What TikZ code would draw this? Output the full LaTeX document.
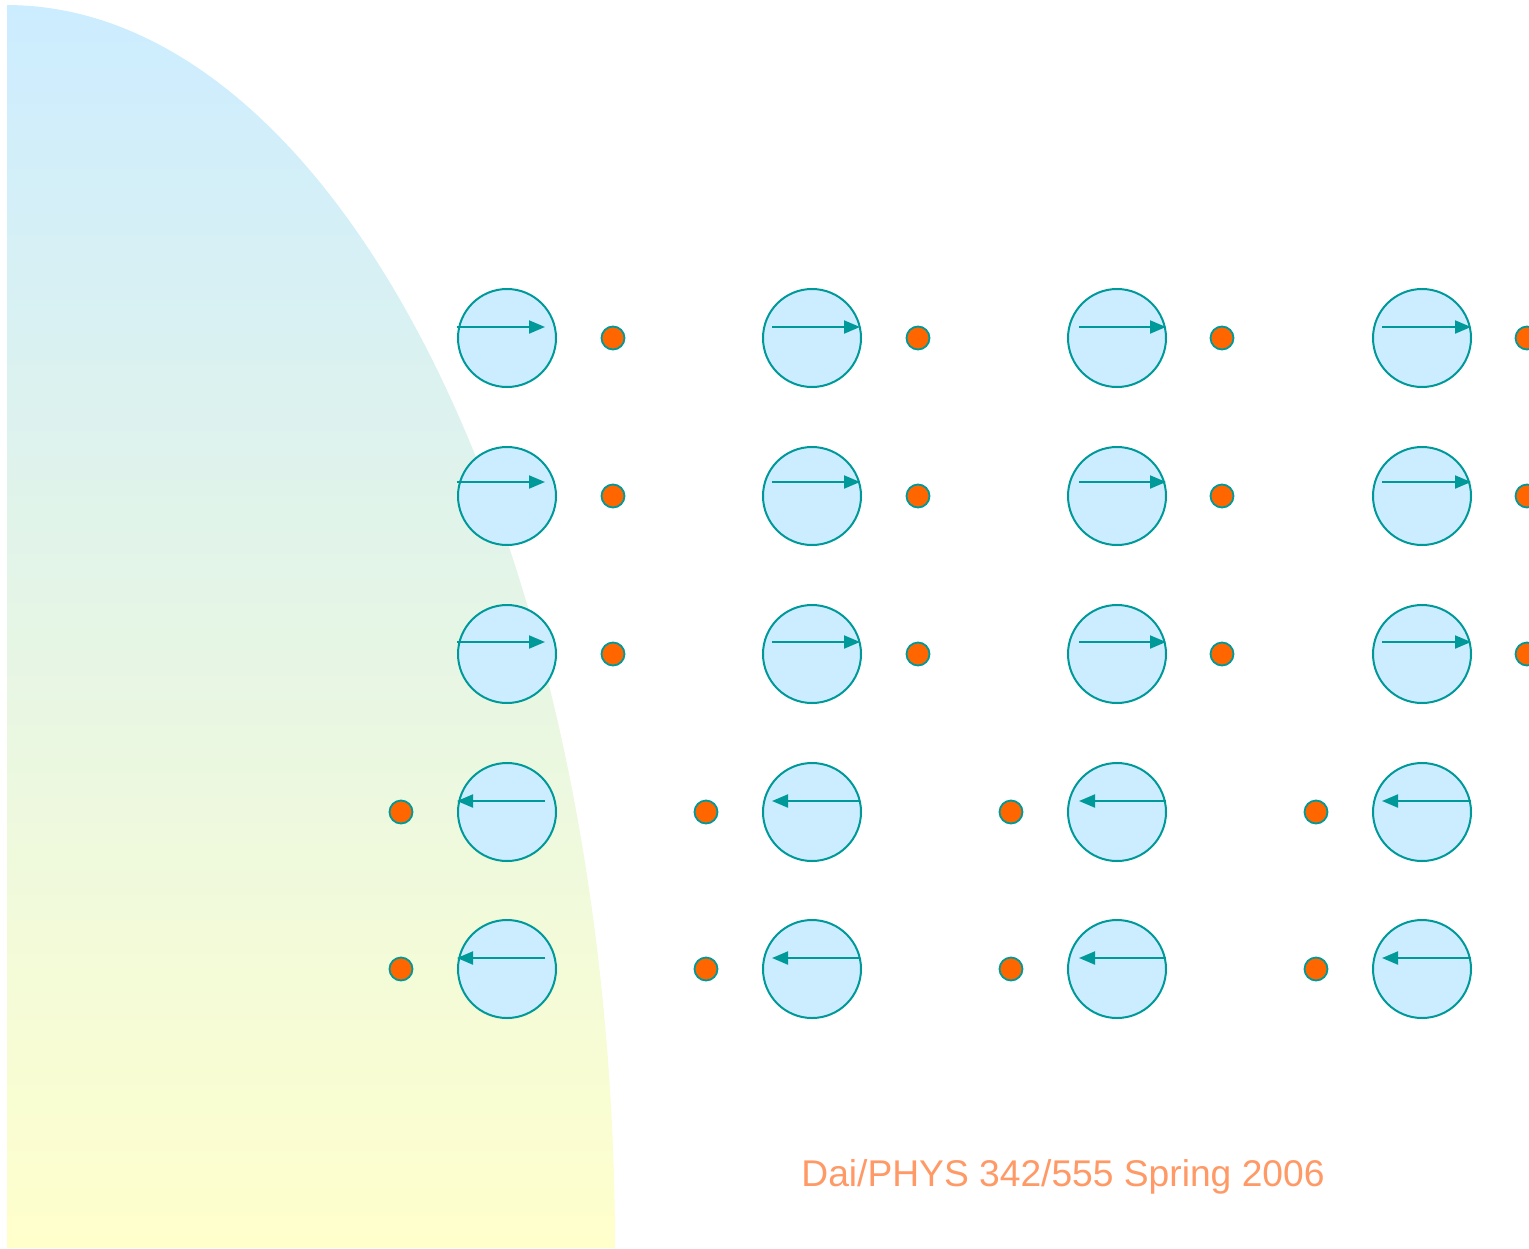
\documentclass[tikz,border=0pt]{standalone}
\usepackage{fontspec}
\setmainfont{Liberation Sans}
\usetikzlibrary{arrows.meta}
\definecolor{skyb}{RGB}{204,236,255}
\definecolor{paley}{RGB}{255,255,204}
\definecolor{tealc}{RGB}{0,153,153}
\definecolor{orangec}{RGB}{255,102,0}
\definecolor{salmon}{RGB}{255,153,102}
\tikzset{
  atom/.style={circle, draw=tealc, fill=skyb, line width=2pt, minimum size=98pt, inner sep=0pt},
  elec/.style={circle, draw=tealc, fill=orangec, line width=1.8pt, minimum size=23pt, inner sep=0pt},
  spin/.style={draw=tealc, line width=2pt, -{Triangle[length=16pt,width=13pt]}},
  lbl/.style={text=salmon, font=\fontsize{37.2}{45}\selectfont}
}
\begin{document}
\begin{tikzpicture}[x=1pt,y=-1pt]
\useasboundingbox (0,0) rectangle (1529,1248);
\shade[top color=skyb, bottom color=paley] plot[domain=0:90, samples=120] ({7+608*cos(\x)},{1248-1243*sin(\x)}) -- (7,1248) -- cycle;
% atoms
\foreach \c/\x in {1/507,2/812,3/1117,4/1422}{
  \foreach \r/\y in {1/338,2/496,3/654,4/812,5/969}{
    \node[atom] (a\r\c) at (\x,\y) {};
  }
}
% electrons
\foreach \c/\x in {1/613,2/918,3/1222,4/1527}{
  \foreach \r/\y in {1/338,2/496,3/654}{
    \node[elec] (e\r\c) at (\x,\y) {};
  }
}
\foreach \c/\x in {1/401,2/706,3/1011,4/1316}{
  \foreach \r/\y in {4/812,5/969}{
    \node[elec] (e\r\c) at (\x,\y) {};
  }
}
% spins
\foreach \c/\s/\e in {1/-50/38,2/-40/48,3/-38/49,4/-40/49}{
  \foreach \r/\dy in {1/11,2/14,3/12}{
    \coordinate (s\r\c) at ([xshift=\s pt,yshift=\dy pt]a\r\c.center);
    \coordinate (t\r\c) at ([xshift=\e pt,yshift=\dy pt]a\r\c.center);
    \draw[spin] (s\r\c) -- (t\r\c);
  }
  \foreach \r in {4,5}{
    \coordinate (s\r\c) at ([xshift=\e pt,yshift=11pt]a\r\c.center);
    \coordinate (t\r\c) at ([xshift=\s pt,yshift=11pt]a\r\c.center);
    \draw[spin] (s\r\c) -- (t\r\c);
  }
}
\node[lbl] (credit) at (1063,1177) {Dai/PHYS 342/555 Spring 2006};
\end{tikzpicture}
\end{document}
